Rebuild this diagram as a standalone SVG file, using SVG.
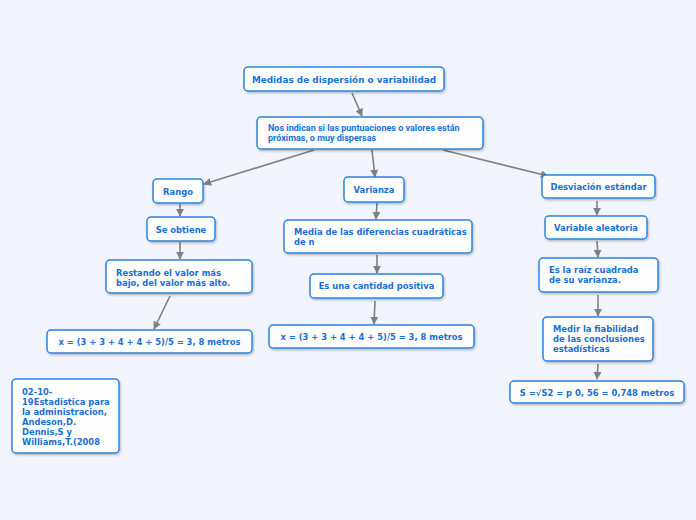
<svg xmlns="http://www.w3.org/2000/svg" width="696" height="520" viewBox="0 0 696 520">
<defs>
<marker id="ah" viewBox="0 0 10 10" refX="9" refY="5" markerWidth="5" markerHeight="5" orient="auto" markerUnits="strokeWidth">
<path d="M0,0 L10,5 L0,10 Z" fill="#808080"/>
</marker>
<filter id="sh" x="-10%" y="-20%" width="130%" height="160%">
<feDropShadow dx="1" dy="1.5" stdDeviation="1" flood-color="#000" flood-opacity="0.25"/>
</filter>
</defs>
<style>
.b{fill:#fff;stroke:#2a84e2;stroke-width:1.5;filter:url(#sh)}
.t{font-family:"DejaVu Sans",sans-serif;font-weight:bold;font-size:8.4px;fill:#1a6fd3}
.h{font-size:8.9px}
.c{text-anchor:middle}
.r{font-family:Roboto,"Liberation Sans",sans-serif;font-weight:bold;font-size:9px;fill:#1a6fd3}
.l{fill:none;stroke:#808080;stroke-width:1.6;marker-end:url(#ah)}
</style>
<rect width="696" height="520" fill="#f2f5fd"/>
<g id="connectors">
<line class="l" x1="352" y1="93" x2="362" y2="116"/>
<line class="l" x1="314" y1="150" x2="204" y2="184"/>
<line class="l" x1="372" y1="150" x2="375" y2="177"/>
<line class="l" x1="443" y1="150" x2="548" y2="176"/>
<line class="l" x1="180" y1="204" x2="180" y2="216"/>
<line class="l" x1="180" y1="242" x2="180" y2="259"/>
<line class="l" x1="170" y1="296" x2="154" y2="329"/>
<line class="l" x1="377" y1="203" x2="376" y2="219"/>
<line class="l" x1="377" y1="255" x2="377" y2="273"/>
<line class="l" x1="375" y1="301" x2="374" y2="324"/>
<line class="l" x1="597" y1="201" x2="597" y2="215"/>
<line class="l" x1="597" y1="241" x2="598" y2="257"/>
<line class="l" x1="598" y1="295" x2="598" y2="316"/>
<line class="l" x1="598" y1="364" x2="597" y2="379"/>
</g>
<g id="n1"><rect class="b" x="244" y="67" width="200" height="24" rx="4"/><text class="t h c" x="344" y="82.5">Medidas de dispersión o variabilidad</text></g>
<g id="n2"><rect class="b" x="257" y="117" width="226" height="32" rx="4"/><text class="r" x="268" y="131">Nos indican si las puntuaciones o valores están</text><text class="r" x="268" y="141">próximas, o muy dispersas</text></g>
<g id="n3"><rect class="b" x="153" y="179" width="50" height="24" rx="4"/><text class="t c" x="178" y="194.5">Rango</text></g>
<g id="n4"><rect class="b" x="147" y="217" width="68" height="24" rx="4"/><text class="t c" x="181" y="232.5">Se obtiene</text></g>
<g id="n5"><rect class="b" x="106" y="260" width="146" height="33" rx="4"/><text class="t" x="116" y="275.5">Restando el valor más</text><text class="t" x="116" y="285.5">bajo, del valor más alto.</text></g>
<g id="n6"><rect class="b" x="47" y="330" width="205" height="23" rx="4"/><text class="t c" x="149.5" y="345">x = (3 + 3 + 4 + 4 + 5)/5 = 3, 8 metros</text></g>
<g id="n7"><rect class="b" x="12" y="379" width="107" height="74" rx="4"/><text class="t" x="22" y="395">02-10-</text><text class="t" x="22" y="405">19Estadistica para</text><text class="t" x="22" y="415">la administracion,</text><text class="t" x="22" y="425">Andeson,D.</text><text class="t" x="22" y="435">Dennis,S y</text><text class="t" x="22" y="445">Williams,T.(2008</text></g>
<g id="n8"><rect class="b" x="344" y="177" width="60" height="25" rx="4"/><text class="t c" x="374" y="193">Varianza</text></g>
<g id="n9"><rect class="b" x="284" y="220" width="188" height="33" rx="4"/><text class="t" x="294" y="235">Media de las diferencias cuadráticas</text><text class="t" x="294" y="245">de n</text></g>
<g id="n10"><rect class="b" x="310" y="274" width="133" height="24" rx="4"/><text class="t c" x="376.5" y="289">Es una cantidad positiva</text></g>
<g id="n11"><rect class="b" x="269" y="325" width="205" height="23" rx="4"/><text class="t c" x="371.5" y="340">x = (3 + 3 + 4 + 4 + 5)/5 = 3, 8 metros</text></g>
<g id="n12"><rect class="b" x="542" y="175" width="113" height="23" rx="4"/><text class="t c" x="598.5" y="190">Desviación estándar</text></g>
<g id="n13"><rect class="b" x="545" y="216" width="102" height="23" rx="4"/><text class="t c" x="596" y="231">Variable aleatoria</text></g>
<g id="n14"><rect class="b" x="539" y="258" width="119" height="34" rx="4"/><text class="t" x="549" y="273">Es la raíz cuadrada</text><text class="t" x="549" y="283">de su varianza.</text></g>
<g id="n15"><rect class="b" x="543" y="317" width="110" height="44" rx="4"/><text class="t" x="553" y="332">Medir la fiabilidad</text><text class="t" x="553" y="342">de las conclusiones</text><text class="t" x="553" y="352">estadísticas</text></g>
<g id="n16"><rect class="b" x="510" y="381" width="174" height="22" rx="4"/><text class="t c" x="597" y="395.5">S =√S2 = p 0, 56 = 0,748 metros</text></g>
</svg>
